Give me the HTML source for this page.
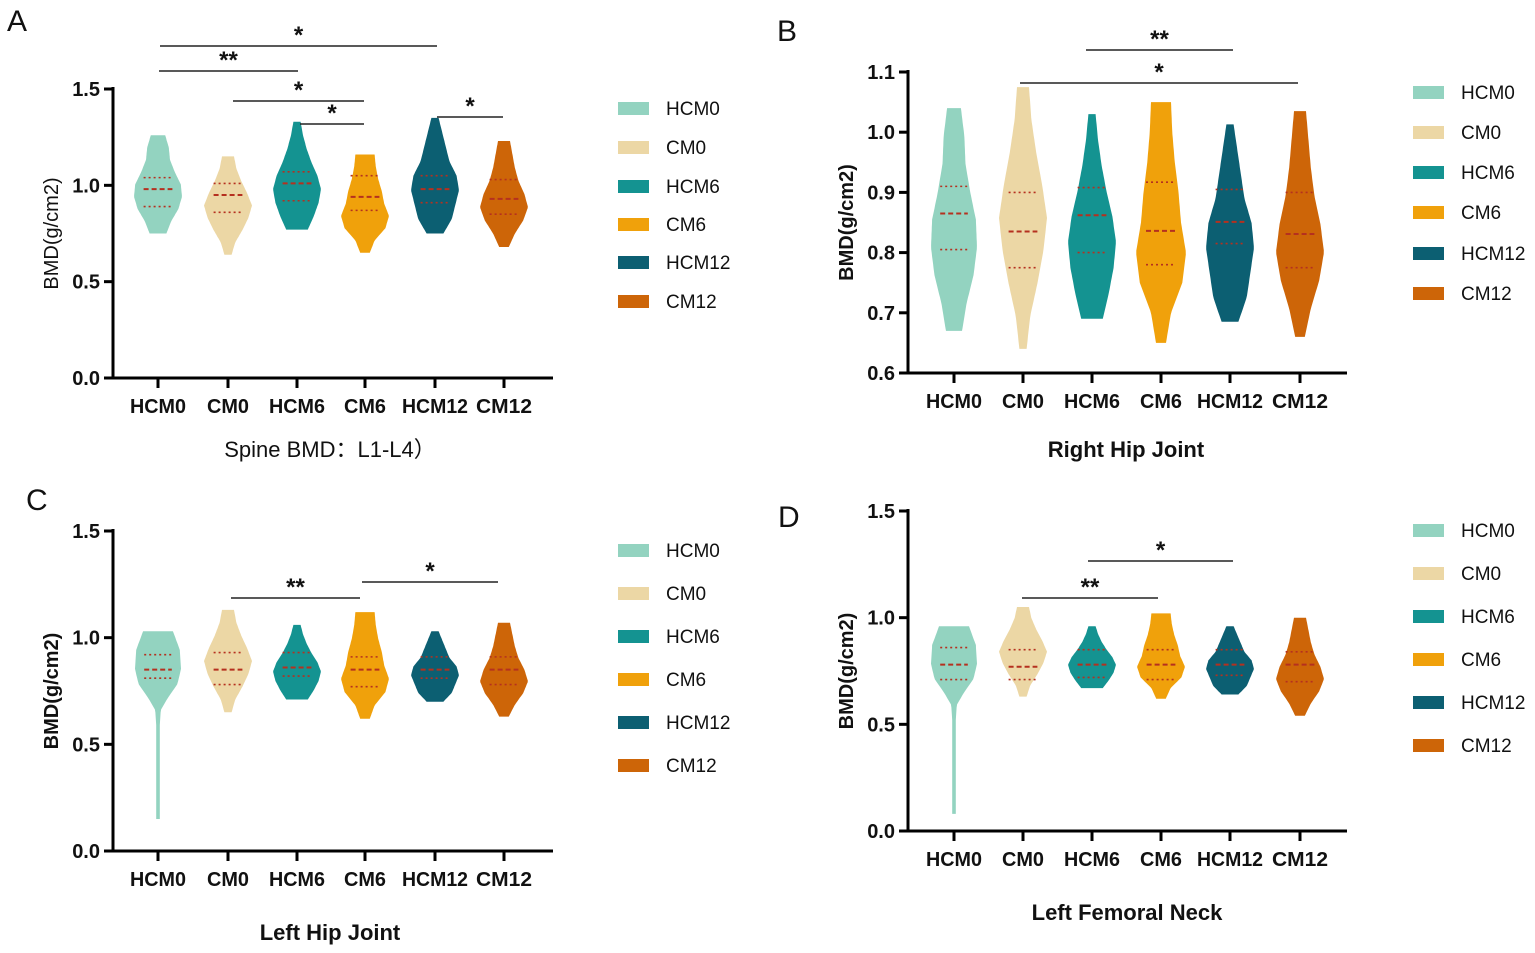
<!DOCTYPE html>
<html><head><meta charset="utf-8"><style>
html,body{margin:0;padding:0;background:#fff;width:1535px;height:953px;overflow:hidden}
svg text{font-family:"Liberation Sans","Noto Sans CJK SC",sans-serif;fill:#111}
</style></head><body>
<svg id="s" width="1535" height="953" xmlns="http://www.w3.org/2000/svg"></svg>
<script>
const S=document.getElementById('s');let h='';
const C=['#93d3c0','#ecd7a5','#149391','#f0a10b','#0c5f72','#cd6508'];
const N=['HCM0','CM0','HCM6','CM6','HCM12','CM12'];
const prof=[
[0.35,0.55,0.85,1,0.95,0.7,0.5,0.45,0.3],
[0.15,0.3,0.6,0.85,1,0.8,0.55,0.35,0.25],
[0.45,0.7,0.9,1,0.85,0.6,0.4,0.25,0.15],
[0.2,0.4,0.85,1,0.8,0.7,0.55,0.45,0.4],
[0.35,0.7,0.85,1,0.9,0.6,0.45,0.3,0.15],
[0.2,0.45,0.8,1,0.85,0.6,0.45,0.35,0.25]];
const tail=[[0,0.08],[0.5,0.08],[0.58,0.12],[0.64,0.4],[0.72,0.85],[0.8,1],[0.9,0.95],[1,0.65]];
function wAt(k,t){for(let i=0;i<k.length-1;i++){if(t<=k[i+1][0]){const f=(t-k[i][0])/(k[i+1][0]-k[i][0]);return k[i][1]+(k[i+1][1]-k[i][1])*f;}}return k[k.length-1][1];}
function panel(o){
 const {ax,y0,y1,v0,v1,ticks,xs,xend,leg,lx,sig,vio,title,tb,letter,ylb}=o;
 const Y=v=>y0-(v-v0)*(y0-y1)/(v1-v0);
 vio.forEach((d,i)=>{const [mn,mx,md,q1,q3,W,cust]=d;const p=prof[i];let L=[],R=[];const n=60;
  for(let k=0;k<=n;k++){const t=k/n;let w;
   if(cust){w=W*wAt(cust,t);}else{const f=t*(p.length-1);const a=Math.floor(f),b=Math.min(a+1,p.length-1);w=W*(p[a]+(p[b]-p[a])*(f-a));}
   const y=Y(mn+(mx-mn)*t);L.push([xs[i]-w,y]);R.push([xs[i]+w,y]);}
  const pts=L.concat(R.reverse()).map(q=>q[0].toFixed(1)+','+q[1].toFixed(1)).join(' ');
  h+=`<polygon points="${pts}" fill="${C[i]}"/>`;
  const wq=W*0.6;
  h+=`<line x1="${xs[i]-wq}" x2="${xs[i]+wq}" y1="${Y(md)}" y2="${Y(md)}" stroke="#b5301f" stroke-width="2" stroke-dasharray="5,3"/>`;
  [q1,q3].forEach(q=>h+=`<line x1="${xs[i]-wq}" x2="${xs[i]+wq}" y1="${Y(q)}" y2="${Y(q)}" stroke="#b5301f" stroke-width="1.6" stroke-dasharray="2,3"/>`);
 });
 h+=`<line x1="${ax}" y1="${y1-2}" x2="${ax}" y2="${y0+1}" stroke="#000" stroke-width="3"/>`;
 h+=`<line x1="${ax-1}" y1="${y0}" x2="${xend}" y2="${y0}" stroke="#000" stroke-width="3"/>`;
 ticks.forEach(t=>{const y=Y(t);h+=`<line x1="${ax-9}" x2="${ax}" y1="${y}" y2="${y}" stroke="#000" stroke-width="3"/><text x="${ax-13}" y="${y+7}" font-size="20" font-weight="bold" text-anchor="end">${t.toFixed(1)}</text>`;});
 xs.forEach((x,i)=>{h+=`<line x1="${x}" x2="${x}" y1="${y0}" y2="${y0+10}" stroke="#000" stroke-width="3"/><text x="${x}" y="${y0+35}" font-size="20" font-weight="bold" text-anchor="middle" textLength="${i==4?66:(N[i].length*14)}" lengthAdjust="spacingAndGlyphs">${N[i]}</text>`;});
 h+=`<text transform="translate(${ax-55},${(y0+y1)/2}) rotate(-90)" font-size="20" ${ylb?'font-weight="bold"':''} text-anchor="middle">BMD(g/cm2)</text>`;
 leg.forEach((y,i)=>{h+=`<rect x="${lx}" y="${y-6}" width="31" height="13" fill="${C[i]}"/><text x="${lx+48}" y="${y+7}" font-size="19">${N[i]}</text>`;});
 sig.forEach(s=>{h+=`<line x1="${s[0]}" x2="${s[1]}" y1="${s[2]}" y2="${s[2]}" stroke="#222" stroke-width="1.5"/><text x="${(s[0]+s[1])/2}" y="${s[2]-3}" font-size="24" font-weight="bold" text-anchor="middle">${s[3]}</text>`;});
 h+=`<text x="${title[1]}" y="${title[2]}" font-size="22" ${tb?'font-weight="bold"':''} text-anchor="middle">${title[0]}</text>`;
 h+=`<text x="${letter[1]}" y="${letter[2]}" font-size="30">${letter[0]}</text>`;
}
const xa=[158,228,297,365,435,504], xb=[954,1023,1092,1161,1230,1300];
panel({ax:113,y0:378,y1:89,v0:0,v1:1.5,ticks:[0,0.5,1,1.5],xs:xa,xend:553,lx:618,leg:[108,147,186,224,262,301],
 sig:[[160,437,46,'*'],[159,298,71,'**'],[233,364,101,'*'],[300,364,124,'*'],[437,503,117,'*']],
 vio:[[0.75,1.26,0.98,0.89,1.04,24],[0.64,1.15,0.95,0.86,1.01,24],[0.77,1.33,1.01,0.92,1.07,24],[0.65,1.16,0.94,0.87,1.05,24],[0.75,1.35,0.98,0.91,1.05,24],[0.68,1.23,0.93,0.85,1.03,24]],
 title:['Spine BMD：L1-L4）',330,457],tb:false,letter:['A',7,31],ylb:false});
panel({ax:908,y0:373,y1:72,v0:0.6,v1:1.1,ticks:[0.6,0.7,0.8,0.9,1.0,1.1],xs:xb,xend:1347,lx:1413,leg:[92,132,172,212,253,293],
 sig:[[1086,1233,50,'**'],[1020,1298,83,'*']],
 vio:[[0.67,1.04,0.865,0.805,0.91,23],[0.64,1.075,0.835,0.775,0.90,24],[0.69,1.03,0.862,0.80,0.908,24],[0.65,1.05,0.836,0.78,0.917,25],[0.685,1.013,0.851,0.815,0.905,24],[0.66,1.035,0.831,0.775,0.90,24]],
 title:['Right Hip Joint',1126,457],tb:true,letter:['B',777,41],ylb:true});
panel({ax:113,y0:851,y1:531,v0:0,v1:1.5,ticks:[0,0.5,1,1.5],xs:xa,xend:553,lx:618,leg:[550,593,636,679,722,765],
 sig:[[231,360,598,'**'],[362,498,582,'*']],
 vio:[[0.15,1.03,0.85,0.81,0.92,23,tail],[0.65,1.13,0.85,0.78,0.93,24],[0.71,1.06,0.86,0.82,0.93,24],[0.62,1.12,0.85,0.77,0.91,24],[0.70,1.03,0.85,0.81,0.91,24],[0.63,1.07,0.85,0.78,0.91,24]],
 title:['Left Hip Joint',330,940],tb:true,letter:['C',26,510],ylb:true});
panel({ax:908,y0:831,y1:511,v0:0,v1:1.5,ticks:[0,0.5,1,1.5],xs:xb,xend:1347,lx:1413,leg:[530,573,616,659,702,745],
 sig:[[1088,1233,561,'*'],[1022,1158,598,'**']],
 vio:[[0.08,0.96,0.78,0.71,0.86,23,tail],[0.63,1.05,0.77,0.71,0.85,24],[0.67,0.96,0.78,0.72,0.85,24],[0.62,1.02,0.78,0.71,0.85,24],[0.64,0.96,0.78,0.73,0.85,24],[0.54,1.0,0.78,0.70,0.84,24]],
 title:['Left Femoral Neck',1127,920],tb:true,letter:['D',778,527],ylb:true});
S.innerHTML=h;
</script>
</body></html>
